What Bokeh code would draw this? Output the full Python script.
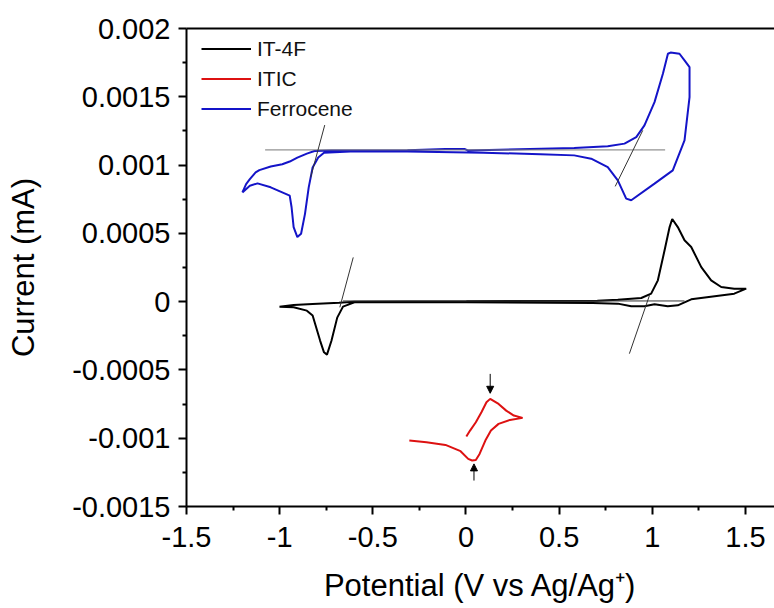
from bokeh.plotting import figure
from bokeh.models import (Range1d, LinearAxis, FixedTicker, CustomJSTickFormatter,
                          Legend, LegendItem, Arrow, NormalHead, ColumnDataSource)
from bokeh.embed import file_html
from bokeh.resources import INLINE

# ---------------- data ----------------
series_names = ["IT-4F", "ITIC", "Ferrocene"]

# IT-4F (black) cyclic voltammogram: potential (V) and current (mA)
it4f_v = [-1.001, -0.925, -0.823, -0.681, -0.599, 0.002, 0.705, 0.815, 0.941, 0.994,
          1.030, 1.066, 1.093, 1.107, 1.137, 1.173, 1.209, 1.263, 1.316, 1.370,
          1.440, 1.504, 1.440, 1.209, 1.137, 1.083, 1.012, 0.958, 0.887, 0.815,
          0.680, 0.002, -0.599, -0.660, -0.691, -0.722, -0.746, -0.762, -0.783, -0.823,
          -0.854, -0.925, -1.001]
it4f_i = [-0.0000366, -0.0000244, -0.0000171, -0.0000073, 0.0, 0.0000024, 0.0000073, 0.0000146, 0.0000264, 0.0000586,
          0.000156, 0.000376, 0.000546, 0.000605, 0.000546, 0.000449, 0.000400, 0.000253, 0.000156, 0.000107,
          0.0000952, 0.0000952, 0.0000586, 0.0000168, -0.0000271, -0.0000344, -0.0000198, -0.0000344, -0.0000344, -0.0000146,
          -0.0000100, -0.0000049, -0.0000049, -0.0000366, -0.000117, -0.000286, -0.000388, -0.000371, -0.000285, -0.000102,
          -0.0000659, -0.0000415, -0.0000366]

# ITIC (red)
itic_v = [-0.304, -0.212, -0.110, -0.029, 0.012, 0.033, 0.053, 0.073, 0.104, 0.134,
          0.175, 0.236, 0.304, 0.257, 0.216, 0.175, 0.130, 0.110, 0.083, 0.053,
          0.022, 0.002]
itic_i = [-0.001017, -0.001029, -0.001049, -0.001095, -0.001151, -0.001163, -0.001159, -0.001115, -0.001017, -0.000944,
          -0.000895, -0.000866, -0.000851, -0.000834, -0.000798, -0.000749, -0.000712, -0.000737, -0.000810, -0.000883,
          -0.000944, -0.000988]

# Ferrocene (blue)
fc_v = [-1.200, -1.180, -1.160, -1.129, -1.109, -1.048, -0.986, -0.946, -0.905, -0.854,
        -0.813, -0.722, -0.314, -0.110, -0.008, 0.012, 0.581, 0.761, 0.851, 0.914,
        0.958, 1.012, 1.057, 1.084, 1.098, 1.146, 1.173, 1.200, 1.200, 1.173,
        1.110, 1.012, 0.887, 0.860, 0.815, 0.761, 0.672, 0.581, 0.399, 0.094,
        -0.314, -0.620, -0.762, -0.793, -0.823, -0.844, -0.864, -0.885, -0.905, -0.925,
        -0.936, -0.946, -0.986, -1.048, -1.119, -1.160, -1.200]
fc_i = [0.000800, 0.000861, 0.000897, 0.000946, 0.000963, 0.000989, 0.001006, 0.001026, 0.001055, 0.001084,
        0.001103, 0.001106, 0.001108, 0.001118, 0.001118, 0.001106, 0.001125, 0.001137, 0.001157, 0.001205,
        0.001291, 0.001461, 0.001669, 0.001815, 0.001824, 0.001815, 0.001767, 0.001717, 0.001498, 0.001181,
        0.000961, 0.000864, 0.000742, 0.000754, 0.000888, 0.000985, 0.001047, 0.001071, 0.001079, 0.001091,
        0.001099, 0.001099, 0.001091, 0.001055, 0.000982, 0.000837, 0.000643, 0.000497, 0.000473, 0.000546,
        0.000691, 0.000776, 0.000800, 0.000837, 0.000866, 0.000849, 0.000800]

# onset tangent lines (start/end potentials and currents)
fc_base_v = [-1.078, 1.069]
fc_base_i = [0.001111, 0.001111]
fc_left_v = [-0.758, -0.834]
fc_left_i = [0.001293, 0.000909]
fc_right_v = [0.949, 0.801]
fc_right_i = [0.001254, 0.000844]
it4f_base_v = [-0.660, 1.173]
it4f_base_i = [0.000005, 0.000005]
it4f_left_v = [-0.605, -0.677]
it4f_left_i = [0.000324, -0.0000415]
it4f_right_v = [0.985, 0.877]
it4f_right_i = [0.0000461, -0.000381]

# peak marker arrows for ITIC
arrow_v = [0.130, 0.043]
arrow_i_start = [-0.000529, -0.001310]
arrow_i_end = [-0.000671, -0.001188]

x_ticks = [-1.5, -1.0, -0.5, 0.0, 0.5, 1.0, 1.5]
x_minor = [-1.25, -0.75, -0.25, 0.25, 0.75, 1.25]
y_ticks = [-0.0015, -0.001, -0.0005, 0.0, 0.0005, 0.001, 0.0015, 0.002]
y_minor = [-0.00125, -0.00075, -0.00025, 0.00025, 0.00075, 0.00125, 0.00175]

x_label = "Potential (V vs Ag/Ag\u207a)"
y_label = "Current (mA)"

# ---------------- figure ----------------
FONT = "Liberation Sans"
p = figure(width=774, height=608, output_backend="svg", toolbar_location=None,
           x_range=Range1d(-1.5, 1.656), y_range=Range1d(-0.0015, 0.002),
           min_border_left=186, min_border_right=0, min_border_top=28, min_border_bottom=102,
           x_axis_location=None, y_axis_location=None)
p.grid.visible = False
p.outline_line_color = None
p.background_fill_color = "white"
p.border_fill_color = "white"

fmt = CustomJSTickFormatter(code="return String(parseFloat(tick.toPrecision(6)));")

def style_axis(ax):
    ax.axis_line_width = 2
    ax.axis_line_color = "black"
    ax.major_tick_line_width = 2
    ax.minor_tick_line_width = 2
    ax.major_tick_line_color = "black"
    ax.minor_tick_line_color = "black"
    ax.major_tick_out = 8
    ax.major_tick_in = 0
    ax.minor_tick_out = 4
    ax.minor_tick_in = 0
    ax.major_label_text_font = FONT
    ax.major_label_text_font_size = "29px"
    ax.major_label_text_color = "black"
    ax.axis_label_text_font = FONT
    ax.axis_label_text_font_size = "31px"
    ax.axis_label_text_font_style = "normal"
    ax.axis_label_text_color = "black"

xaxis = LinearAxis(ticker=FixedTicker(ticks=x_ticks, minor_ticks=x_minor), formatter=fmt,
                   axis_label=x_label)
style_axis(xaxis)
xaxis.major_label_standoff = 12
xaxis.axis_label_standoff = 18
p.add_layout(xaxis, "below")

yaxis = LinearAxis(ticker=FixedTicker(ticks=y_ticks, minor_ticks=y_minor), formatter=fmt,
                   axis_label=y_label)
style_axis(yaxis)
yaxis.major_label_standoff = 8
yaxis.axis_label_standoff = 28
p.add_layout(yaxis, "left")

top = LinearAxis(ticker=FixedTicker(ticks=[]), major_label_text_font_size="0px",
                 axis_line_width=2, axis_line_color="black",
                 major_tick_line_color=None, minor_tick_line_color=None)
p.add_layout(top, "above")

# curves
r_it4f = p.line(it4f_v, it4f_i, line_color="black", line_width=2)
r_itic = p.line(itic_v, itic_i, line_color="#dd1111", line_width=2)
r_fc = p.line(fc_v, fc_i, line_color="#1414c8", line_width=2)

# tangents
p.line(fc_base_v, fc_base_i, line_color="#777777", line_width=1)
p.line(fc_left_v, fc_left_i, line_color="#333333", line_width=1)
p.line(fc_right_v, fc_right_i, line_color="#333333", line_width=1)
p.line(it4f_base_v, it4f_base_i, line_color="#333333", line_width=1)
p.line(it4f_left_v, it4f_left_i, line_color="#333333", line_width=1)
p.line(it4f_right_v, it4f_right_i, line_color="#333333", line_width=1)

# arrows
asrc = ColumnDataSource(dict(x0=arrow_v, y0=arrow_i_start, x1=arrow_v, y1=arrow_i_end))
p.add_layout(Arrow(end=NormalHead(size=7, fill_color="black", line_color="black"),
                   x_start="x0", y_start="y0", x_end="x1", y_end="y1",
                   line_color="black", line_width=1, source=asrc))

legend = Legend(items=[LegendItem(label=series_names[0], renderers=[r_it4f]),
                       LegendItem(label=series_names[1], renderers=[r_itic]),
                       LegendItem(label=series_names[2], renderers=[r_fc])],
                location=(15, 384))
legend.margin = 0
legend.padding = 0
legend.spacing = 3
legend.glyph_width = 50
legend.glyph_height = 27
legend.label_height = 27
legend.label_standoff = 6
legend.label_text_font = FONT
legend.label_text_font_size = "21px"
legend.label_text_color = "#111111"
legend.border_line_color = None
legend.background_fill_alpha = 0
p.add_layout(legend)

open("out.html", "w").write(file_html(p, INLINE))
